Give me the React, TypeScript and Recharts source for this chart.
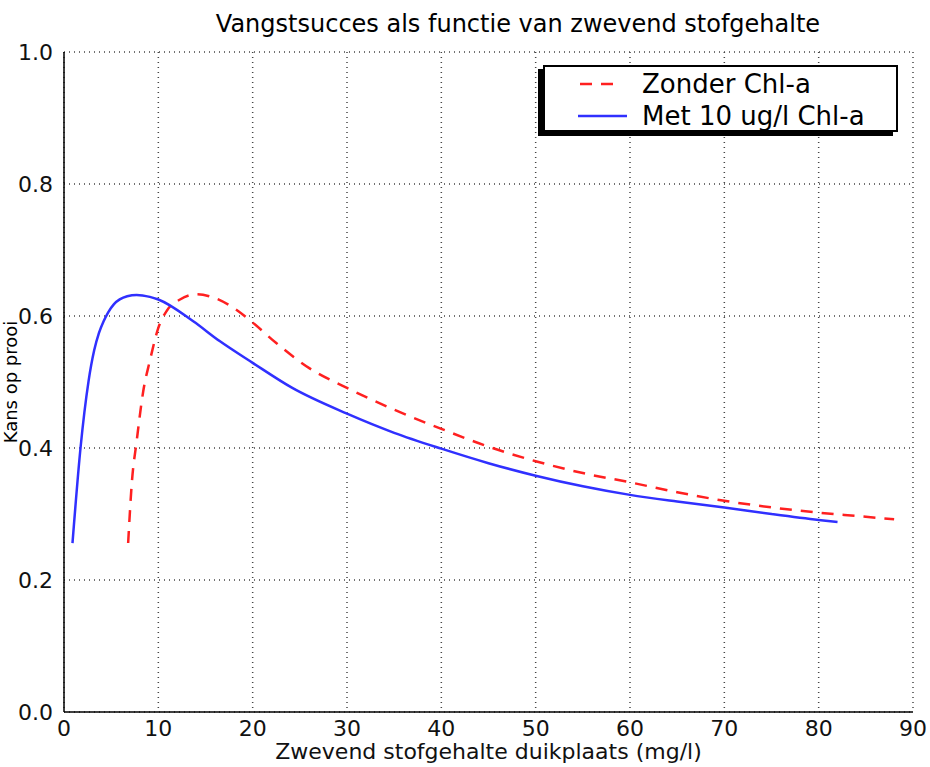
import { CartesianGrid, Line, LineChart, XAxis, YAxis } from "recharts";

// Zonder Chl-a (red dashed)
const zonderX = [6.8, 7.2, 7.7, 8.4, 9.1, 10, 10.9, 12.3, 14, 15.4, 17.9, 20, 22.5, 26, 30, 35, 40, 45, 50, 55, 60, 65, 70, 75, 80, 84, 88];
const zonderY = [0.256, 0.349, 0.41, 0.486, 0.532, 0.582, 0.608, 0.625, 0.633, 0.63, 0.613, 0.59, 0.559, 0.521, 0.491, 0.458, 0.429, 0.402, 0.38, 0.362, 0.348, 0.333, 0.32, 0.31, 0.302, 0.297, 0.292];

// Met 10 ug/l Chl-a (blue solid)
const metX = [0.9, 1.75, 2.6, 3.2, 3.7, 4.2, 4.7, 5.3, 6.7, 7.7, 9.1, 10, 13.7, 16.5, 20, 24.2, 30, 35, 40, 45, 50, 55, 60, 65, 70, 75, 80, 82];
const metY = [0.256, 0.4, 0.501, 0.548, 0.574, 0.592, 0.606, 0.618, 0.63, 0.632, 0.629, 0.625, 0.592, 0.562, 0.529, 0.491, 0.452, 0.423, 0.399, 0.377, 0.358, 0.342, 0.329, 0.319, 0.31, 0.3, 0.291, 0.288];

const xTicks = [0, 10, 20, 30, 40, 50, 60, 70, 80, 90];
const yTicks = [0, 0.2, 0.4, 0.6, 0.8, 1.0];

const zonder = zonderX.map((x, i) => ({ x, y: zonderY[i] }));
const met = metX.map((x, i) => ({ x, y: metY[i] }));

const font = "'DejaVu Sans', sans-serif";
const RED = "#ff2020";
const BLUE = "#3030ff";

// legend drawn as an overlay so recharts doesn't reserve space for it
function LegendBox() {
  return (
    <div
      style={{
        position: "absolute",
        left: 543,
        top: 65,
        width: 355,
        height: 67,
        background: "#fff",
        border: "2px solid #000",
        boxShadow: "-5px 4px 0 #000",
        fontFamily: font,
        fontSize: 26,
        color: "#000",
        boxSizing: "border-box",
        lineHeight: 1,
      }}
    >
      <div style={{ display: "flex", alignItems: "center", height: 33, marginTop: 0 }}>
        <svg width={97} height={10}>
          <line x1={35} y1={5} x2={70} y2={5} stroke={RED} strokeWidth={2.5} strokeDasharray="12 9" />
        </svg>
        <span>Zonder Chl-a</span>
      </div>
      <div style={{ display: "flex", alignItems: "center", height: 32 }}>
        <svg width={97} height={10}>
          <line x1={33} y1={5} x2={82} y2={5} stroke={BLUE} strokeWidth={2.5} />
        </svg>
        <span>Met 10 ug/l Chl-a</span>
      </div>
    </div>
  );
}

export default function App() {
  return (
    <div style={{ position: "absolute", left: 0, top: 0, width: 930, height: 767, background: "#fff" }}>
      <LineChart width={930} height={767} margin={{ top: 52, right: 17, bottom: 0, left: 0 }}>
        <text x={518} y={24} textAnchor="middle" dominantBaseline="central" fontFamily={font} fontSize={24} fill="#000">
          Vangstsucces als functie van zwevend stofgehalte
        </text>
        <text
          x={10}
          y={382}
          transform="rotate(-90 10 382)"
          textAnchor="middle"
          dominantBaseline="central"
          fontFamily={font}
          fontSize={18}
          fill="#000"
        >
          Kans op prooi
        </text>
        <CartesianGrid stroke="#444" strokeDasharray="1 4" strokeWidth={1.5} />
        <XAxis
          dataKey="x"
          type="number"
          domain={[0, 90]}
          ticks={xTicks}
          allowDuplicatedCategory={false}
          height={55}
          stroke="#000"
          strokeWidth={1.5}
          tickLine={false}
          tick={{ fill: "#111", fontFamily: font, fontSize: 22 }}
          tickMargin={2}
          label={{
            value: "Zwevend stofgehalte duikplaats (mg/l)",
            position: "insideBottom",
            offset: 8,
            fill: "#111",
            fontFamily: font,
            fontSize: 22,
          }}
        />
        <XAxis xAxisId="top" orientation="top" type="number" domain={[0, 90]} height={0} tick={false} tickLine={false} stroke="#000" strokeWidth={1.5} />
        <YAxis
          dataKey="y"
          type="number"
          domain={[0, 1]}
          ticks={yTicks}
          width={64}
          stroke="#000"
          strokeWidth={1.5}
          tickLine={false}
          tickFormatter={(v: number) => v.toFixed(1)}
          tick={{ fill: "#111", fontFamily: font, fontSize: 22 }}
          tickMargin={5}
        />
        <YAxis yAxisId="right" orientation="right" domain={[0, 1]} width={0} tick={false} tickLine={false} stroke="#000" strokeWidth={1.5} />
        <Line
          data={zonder}
          dataKey="y"
          name="Zonder Chl-a"
          type="monotone"
          stroke={RED}
          strokeWidth={2.5}
          strokeDasharray="12 9"
          dot={false}
          isAnimationActive={false}
        />
        <Line
          data={met}
          dataKey="y"
          name="Met 10 ug/l Chl-a"
          type="monotone"
          stroke={BLUE}
          strokeWidth={2.5}
          dot={false}
          isAnimationActive={false}
        />
      </LineChart>
      <LegendBox />
    </div>
  );
}
